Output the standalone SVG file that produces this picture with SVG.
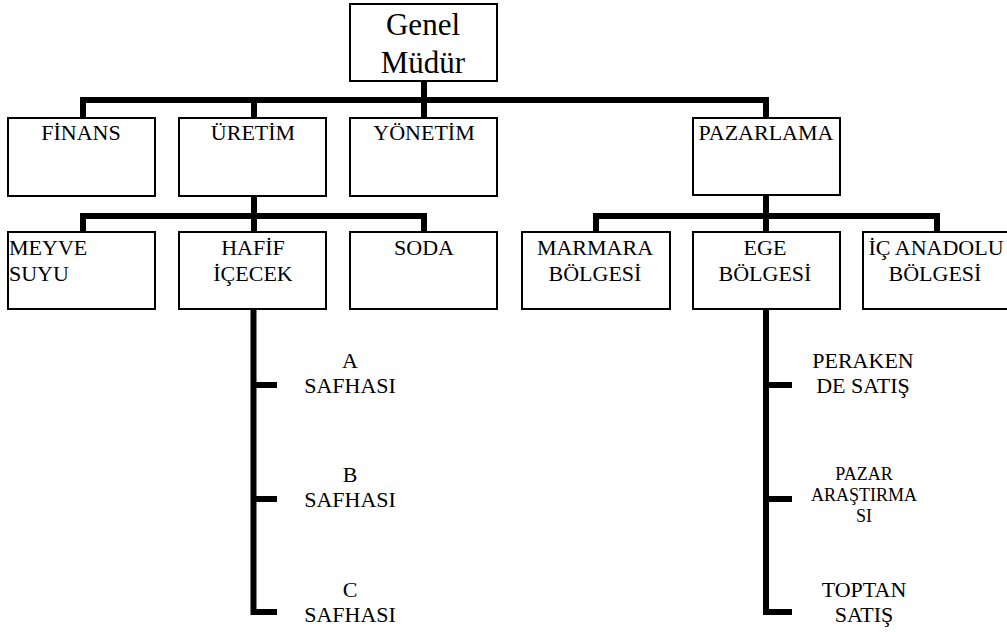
<svg xmlns="http://www.w3.org/2000/svg" width="1007" height="632" viewBox="0 0 1007 632" font-family="Liberation Serif, Times New Roman, Times, Tinos, Nimbus Roman, FreeSerif, Noto Serif, DejaVu Serif, serif">
  <style>
    .box { fill: #fff; stroke: #000; stroke-width: 2; }
    .conn { fill: none; stroke: #000; stroke-width: 6; stroke-linejoin: miter; stroke-linecap: butt; }
    text { fill: #000; }
    .t1 { font-size: 22px; text-anchor: middle; }
    .lt { font-size: 22px; text-anchor: start; }
    .top { font-size: 31px; text-anchor: middle; }
    .small { font-size: 18px; text-anchor: middle; }
  </style>
  <rect width="1007" height="632" fill="#fff"/>

  <g id="connectors">
    <!-- top level bus -->
    <path class="conn" d="M83 118 V100 H766 V118"/>
    <path class="conn" d="M424 81 V118"/>
    <path class="conn" d="M254 100 V118"/>
    <!-- production bus -->
    <path class="conn" d="M254 196 V232"/>
    <path class="conn" d="M83 232 V216 H424 V232"/>
    <!-- marketing bus -->
    <path class="conn" d="M766 195 V232"/>
    <path class="conn" d="M596 232 V216 H937 V232"/>
    <!-- stages under soft drinks -->
    <path class="conn" d="M253.5 309 V612 H277"/>
    <path class="conn" d="M253.5 385 H277 M253.5 499 H277"/>
    <!-- sales units under Aegean region -->
    <path class="conn" d="M766 309 V612 H792"/>
    <path class="conn" d="M766 385 H792 M766 499 H792"/>
  </g>

  <g id="genel-mudur">
    <rect class="box" x="350" y="4" width="147" height="77"/>
    <text class="top" x="423" y="35">Genel</text>
    <text class="top" x="423" y="73">Müdür</text>
  </g>

  <g id="finans">
    <rect class="box" x="8" y="118" width="147" height="78"/>
    <text class="t1" x="81" y="140">FİNANS</text>
  </g>
  <g id="uretim">
    <rect class="box" x="179" y="118" width="147" height="78"/>
    <text class="t1" x="253" y="140">ÜRETİM</text>
  </g>
  <g id="yonetim">
    <rect class="box" x="350" y="118" width="147" height="78"/>
    <text class="t1" x="424" y="140">YÖNETİM</text>
  </g>
  <g id="pazarlama">
    <rect class="box" x="693" y="118" width="147" height="77"/>
    <text class="t1" x="766" y="140">PAZARLAMA</text>
  </g>

  <g id="meyve-suyu">
    <rect class="box" x="8" y="232" width="147" height="77"/>
    <text class="lt" x="9" y="255">MEYVE</text>
    <text class="lt" x="9" y="281">SUYU</text>
  </g>
  <g id="hafif-icecek">
    <rect class="box" x="179" y="232" width="147" height="77"/>
    <text class="t1" x="253" y="255">HAFİF</text>
    <text class="t1" x="253" y="281">İÇECEK</text>
  </g>
  <g id="soda">
    <rect class="box" x="350" y="232" width="147" height="77"/>
    <text class="t1" x="424" y="255">SODA</text>
  </g>

  <g id="marmara">
    <rect class="box" x="522" y="232" width="148" height="77"/>
    <text class="t1" x="595" y="255">MARMARA</text>
    <text class="t1" x="595" y="281">BÖLGESİ</text>
  </g>
  <g id="ege">
    <rect class="box" x="693" y="232" width="147" height="77"/>
    <text class="t1" x="765" y="255">EGE</text>
    <text class="t1" x="765" y="281">BÖLGESİ</text>
  </g>
  <g id="ic-anadolu">
    <rect class="box" x="863" y="232" width="150" height="77"/>
    <text class="t1" x="936" y="255">İÇ ANADOLU</text>
    <text class="t1" x="935" y="281">BÖLGESİ</text>
  </g>

  <g id="a-safhasi">
    <text class="t1" x="350" y="368">A</text>
    <text class="t1" x="350" y="393">SAFHASI</text>
  </g>
  <g id="b-safhasi">
    <text class="t1" x="350" y="482">B</text>
    <text class="t1" x="350" y="507">SAFHASI</text>
  </g>
  <g id="c-safhasi">
    <text class="t1" x="350" y="597">C</text>
    <text class="t1" x="350" y="622">SAFHASI</text>
  </g>

  <g id="perakende-satis">
    <text class="t1" x="863" y="368">PERAKEN</text>
    <text class="t1" x="863" y="393">DE SATIŞ</text>
  </g>
  <g id="pazar-arastirmasi">
    <text class="small" x="864" y="480">PAZAR</text>
    <text class="small" x="864" y="501">ARAŞTIRMA</text>
    <text class="small" x="864" y="522">SI</text>
  </g>
  <g id="toptan-satis">
    <text class="t1" x="864" y="597">TOPTAN</text>
    <text class="t1" x="864" y="622">SATIŞ</text>
  </g>
</svg>
